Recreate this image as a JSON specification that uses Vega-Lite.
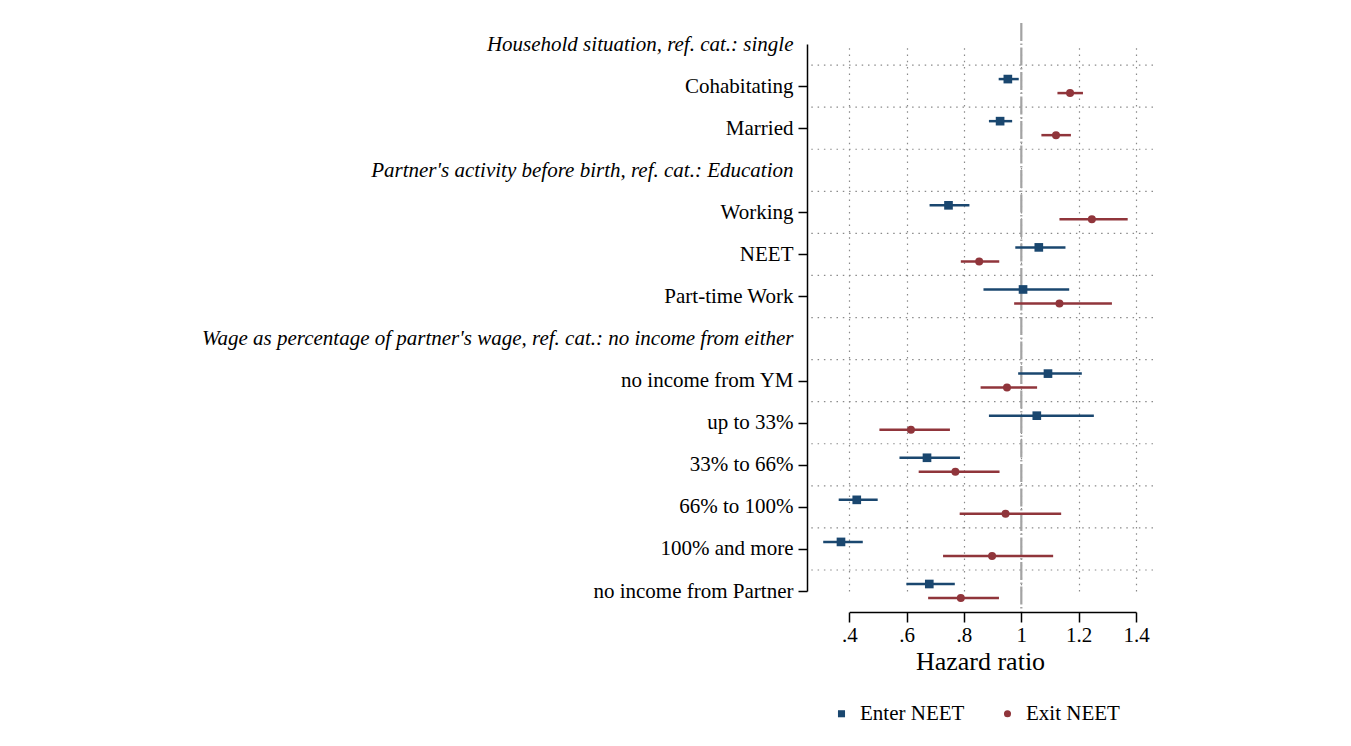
{
  "$schema": "https://vega.github.io/schema/vega-lite/v6.json",
  "autosize": {"type": "none"},
  "width": 346,
  "height": 589,
  "padding": {"left": 807, "top": 23, "right": 198, "bottom": 134},
  "background": "white",
  "config": {"view": {"stroke": null}, "font": "Liberation Serif"},
  "datasets": {
    "rows": [
      {"label": "Household situation, ref. cat.: single"},
      {"label": "Cohabitating"},
      {"label": "Married"},
      {"label": "Partner's activity before birth, ref. cat.: Education"},
      {"label": "Working"},
      {"label": "NEET"},
      {"label": "Part-time Work"},
      {"label": "Wage as percentage of partner's wage, ref. cat.: no income from either"},
      {"label": "no income from YM"},
      {"label": "up to 33%"},
      {"label": "33% to 66%"},
      {"label": "66% to 100%"},
      {"label": "100% and more"},
      {"label": "no income from Partner"}
    ],
    "est": [
      {"label": "Cohabitating", "series": "Enter NEET", "hr": 0.953, "lo": 0.921, "hi": 0.991},
      {"label": "Cohabitating", "series": "Exit NEET", "hr": 1.170, "lo": 1.126, "hi": 1.215},
      {"label": "Married", "series": "Enter NEET", "hr": 0.926, "lo": 0.887, "hi": 0.968},
      {"label": "Married", "series": "Exit NEET", "hr": 1.121, "lo": 1.070, "hi": 1.173},
      {"label": "Working", "series": "Enter NEET", "hr": 0.746, "lo": 0.680, "hi": 0.819},
      {"label": "Working", "series": "Exit NEET", "hr": 1.246, "lo": 1.133, "hi": 1.371},
      {"label": "NEET", "series": "Enter NEET", "hr": 1.061, "lo": 0.979, "hi": 1.154},
      {"label": "NEET", "series": "Exit NEET", "hr": 0.853, "lo": 0.789, "hi": 0.923},
      {"label": "Part-time Work", "series": "Enter NEET", "hr": 1.006, "lo": 0.868, "hi": 1.167},
      {"label": "Part-time Work", "series": "Exit NEET", "hr": 1.133, "lo": 0.975, "hi": 1.316},
      {"label": "no income from YM", "series": "Enter NEET", "hr": 1.093, "lo": 0.989, "hi": 1.211},
      {"label": "no income from YM", "series": "Exit NEET", "hr": 0.950, "lo": 0.858, "hi": 1.055},
      {"label": "up to 33%", "series": "Enter NEET", "hr": 1.054, "lo": 0.887, "hi": 1.253},
      {"label": "up to 33%", "series": "Exit NEET", "hr": 0.615, "lo": 0.505, "hi": 0.751},
      {"label": "33% to 66%", "series": "Enter NEET", "hr": 0.671, "lo": 0.575, "hi": 0.786},
      {"label": "33% to 66%", "series": "Exit NEET", "hr": 0.770, "lo": 0.642, "hi": 0.924},
      {"label": "66% to 100%", "series": "Enter NEET", "hr": 0.426, "lo": 0.363, "hi": 0.499},
      {"label": "66% to 100%", "series": "Exit NEET", "hr": 0.945, "lo": 0.785, "hi": 1.139},
      {"label": "100% and more", "series": "Enter NEET", "hr": 0.371, "lo": 0.309, "hi": 0.447},
      {"label": "100% and more", "series": "Exit NEET", "hr": 0.898, "lo": 0.727, "hi": 1.111},
      {"label": "no income from Partner", "series": "Enter NEET", "hr": 0.679, "lo": 0.599, "hi": 0.768},
      {"label": "no income from Partner", "series": "Exit NEET", "hr": 0.789, "lo": 0.675, "hi": 0.922}
    ],
    "ref": [{"hr": 1}]
  },
  "layer": [
    {
      "data": {"name": "ref"},
      "mark": {"type": "rule", "color": "#a3a3a3", "strokeWidth": 2.2, "strokeDash": [18, 2.5, 1.5, 2.5]},
      "encoding": {
        "x": {
          "field": "hr", "type": "quantitative", "title": "Hazard ratio",
          "scale": {"domain": [0.4, 1.4], "range": [42.3, 329], "nice": false, "zero": false},
          "axis": {
            "values": [0.4, 0.6, 0.8, 1, 1.2, 1.4],
            "labelExpr": "datum.value < 1 ? substring(format(datum.value, '.1f'), 1) : format(datum.value, '.1~f')",
            "labelFlush": false,
            "grid": true, "gridDash": [1.5, 4.8], "gridColor": "#8a8a8a", "gridWidth": 1.2,
            "domainColor": "#000000", "domainWidth": 1.5,
            "tickColor": "#000000", "tickWidth": 1.5, "tickSize": 10,
            "labelFontSize": 21, "labelColor": "#000000", "labelPadding": 2,
            "titleFontSize": 26, "titleFontWeight": "normal", "titleColor": "#000000", "titlePadding": 3,
            "titleX": 173, "titleAlign": "center"
          }
        }
      }
    },
    {
      "encoding": {
        "y": {
          "field": "label", "type": "nominal", "title": null,
          "scale": {
            "type": "point", "padding": 0, "range": [21, 568],
            "domain": [
              "Household situation, ref. cat.: single",
              "Cohabitating",
              "Married",
              "Partner's activity before birth, ref. cat.: Education",
              "Working",
              "NEET",
              "Part-time Work",
              "Wage as percentage of partner's wage, ref. cat.: no income from either",
              "no income from YM",
              "up to 33%",
              "33% to 66%",
              "66% to 100%",
              "100% and more",
              "no income from Partner"
            ]
          },
          "axis": {
            "grid": false,
            "domainColor": "#000000", "domainWidth": 1.5,
            "tickColor": "#000000", "tickWidth": 1.5, "tickSize": 9,
            "tickOpacity": {"condition": {"test": "indexof(datum.value, 'ref. cat.') >= 0", "value": 0}, "value": 1},
            "labelFontStyle": {"condition": {"test": "indexof(datum.value, 'ref. cat.') >= 0", "value": "italic"}, "value": "normal"},
            "labelFontSize": 21, "labelColor": "#000000", "labelPadding": 5, "labelLimit": 800
          }
        }
      },
      "layer": [
        {
          "data": {"name": "rows"},
          "transform": [{"filter": "datum.label != 'Household situation, ref. cat.: single'"}],
          "mark": {"type": "rule", "color": "#8a8a8a", "strokeWidth": 1.2, "strokeDash": [1.5, 4.8], "yOffset": -21},
          "encoding": {}
        },
        {
          "data": {"name": "est"},
          "transform": [{"filter": "datum.series == 'Enter NEET'"}],
          "layer": [
            {
              "mark": {"type": "rule", "strokeWidth": 2.5, "yOffset": -7},
              "encoding": {
                "x": {"field": "lo", "type": "quantitative", "title": "Hazard ratio", "scale": {"domain": [0.4, 1.4], "range": [42.3, 329], "nice": false, "zero": false}},
                "x2": {"field": "hi"},
                "color": {"field": "series", "type": "nominal", "title": null, "scale": {"domain": ["Enter NEET", "Exit NEET"], "range": ["#1a476f", "#90353b"]}}
              }
            },
            {
              "mark": {"type": "point", "filled": true, "opacity": 1, "yOffset": -7, "size": 75},
              "encoding": {
                "x": {"field": "hr", "type": "quantitative", "title": "Hazard ratio", "scale": {"domain": [0.4, 1.4], "range": [42.3, 329], "nice": false, "zero": false}},
                "color": {"field": "series", "type": "nominal", "title": null, "scale": {"domain": ["Enter NEET", "Exit NEET"], "range": ["#1a476f", "#90353b"]}},
                "shape": {"field": "series", "type": "nominal", "title": null, "scale": {"domain": ["Enter NEET", "Exit NEET"], "range": ["square", "circle"]}}
              }
            }
          ]
        },
        {
          "data": {"name": "est"},
          "transform": [{"filter": "datum.series == 'Exit NEET'"}],
          "layer": [
            {
              "mark": {"type": "rule", "strokeWidth": 2.5, "yOffset": 7},
              "encoding": {
                "x": {"field": "lo", "type": "quantitative", "title": "Hazard ratio", "scale": {"domain": [0.4, 1.4], "range": [42.3, 329], "nice": false, "zero": false}},
                "x2": {"field": "hi"},
                "color": {"field": "series", "type": "nominal", "title": null, "scale": {"domain": ["Enter NEET", "Exit NEET"], "range": ["#1a476f", "#90353b"]}}
              }
            },
            {
              "mark": {"type": "point", "filled": true, "opacity": 1, "yOffset": 7, "size": 64},
              "encoding": {
                "x": {"field": "hr", "type": "quantitative", "title": "Hazard ratio", "scale": {"domain": [0.4, 1.4], "range": [42.3, 329], "nice": false, "zero": false}},
                "color": {"field": "series", "type": "nominal", "title": null, "scale": {"domain": ["Enter NEET", "Exit NEET"], "range": ["#1a476f", "#90353b"]},
                  "legend": {"orient": "none", "legendX": 24, "legendY": 680, "direction": "horizontal", "padding": 0, "symbolSize": 50, "labelFontSize": 21, "labelColor": "#000000", "labelOffset": 8, "columnPadding": 32, "symbolStrokeWidth": 0}},
                "shape": {"field": "series", "type": "nominal", "title": null, "scale": {"domain": ["Enter NEET", "Exit NEET"], "range": ["square", "circle"]},
                  "legend": {"orient": "none", "legendX": 24, "legendY": 680, "direction": "horizontal", "padding": 0, "symbolSize": 50, "labelFontSize": 21, "labelColor": "#000000", "labelOffset": 8, "columnPadding": 32, "symbolStrokeWidth": 0}}
              }
            }
          ]
        }
      ]
    }
  ]
}
